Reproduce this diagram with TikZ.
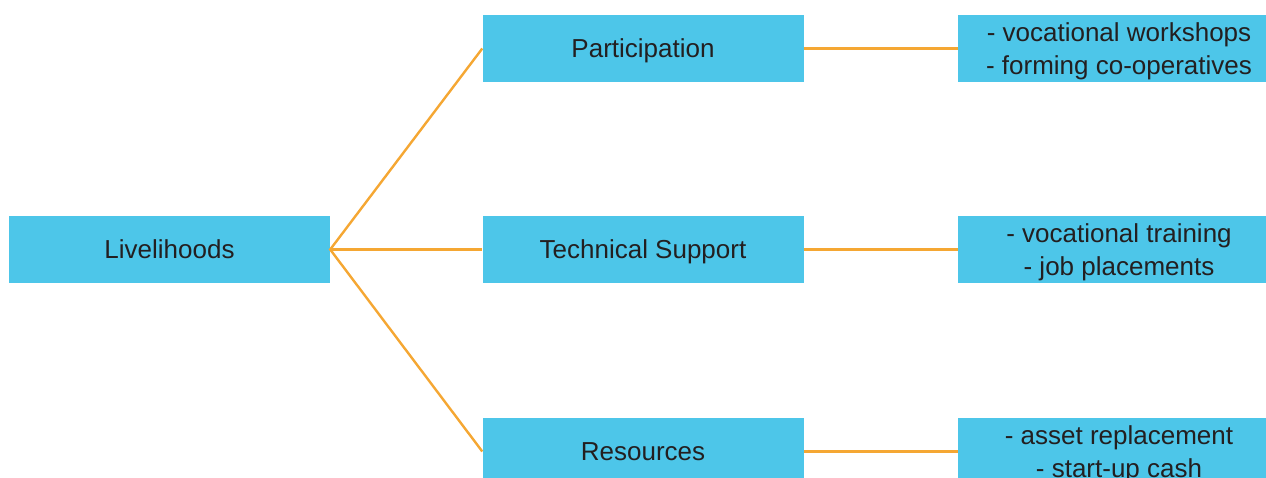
\documentclass[tikz,border=0pt]{standalone}
\usepackage{fontspec}
\setmainfont{Liberation Sans}
\usetikzlibrary{positioning}
\definecolor{boxcyan}{HTML}{4DC6E9}
\definecolor{lineorange}{HTML}{F5A733}
\definecolor{textgray}{HTML}{231F20}

\begin{document}
\begin{tikzpicture}[every node/.style={text=textgray, font=\fontsize{26}{33}\selectfont},
	box/.style={fill=boxcyan, minimum width=321pt, minimum height=67pt, inner sep=0pt, align=center, text depth=0pt},
	listbox/.style={box, minimum width=322pt, text depth=-3pt},
	link/.style={draw=lineorange, line width=2.4pt}]
	\useasboundingbox (0,0) rectangle (1266pt,477pt);

	\node[box](LH) at (169.5pt,227.5pt){Livelihoods};

	\node[box, right of=LH, node distance=473.5pt](TS){Technical Support};
	\node[box, above of=TS, node distance=201pt](PA){Participation};
	\node[box, below of=TS, node distance=202pt](RE){Resources};

	\node[listbox, right of=PA, node distance=476pt](PA2){- vocational workshops\\- forming co-operatives};
	\node[listbox, right of=TS, node distance=476pt](TS2){- vocational training\\- job placements};
	\node[listbox, right of=RE, node distance=476pt](RE2){- asset replacement\\- start-up cash};

	\draw[link] (PA.west) -- (LH.east) -- (RE.west);
	\draw[link] (LH.east) -- (TS.west);

	\draw[link] (PA) -- (PA2);
	\draw[link] (TS) -- (TS2);
	\draw[link] (RE) -- (RE2);
\end{tikzpicture}
\end{document}
